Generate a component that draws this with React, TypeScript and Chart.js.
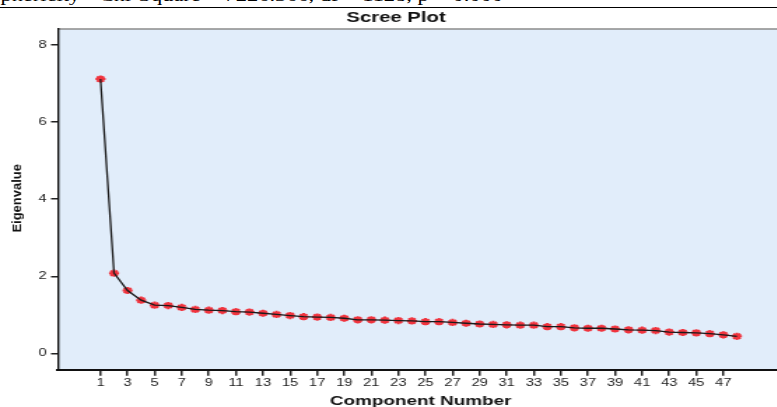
import React, { useEffect, useRef } from 'react';
import { Chart, registerables } from 'chart.js';

Chart.register(...registerables);

// ---- data ----
const components = [
  1, 2, 3, 4, 5, 6, 7, 8, 9, 10, 11, 12, 13, 14, 15, 16, 17, 18, 19, 20, 21, 22, 23, 24,
  25, 26, 27, 28, 29, 30, 31, 32, 33, 34, 35, 36, 37, 38, 39, 40, 41, 42, 43, 44, 45, 46, 47, 48,
];
const eigenvalues = [
  7.12, 2.08, 1.63, 1.38, 1.25, 1.24, 1.19, 1.14, 1.12, 1.11, 1.08, 1.07,
  1.04, 1.01, 0.98, 0.95, 0.94, 0.93, 0.91, 0.87, 0.87, 0.86, 0.85, 0.84,
  0.82, 0.82, 0.80, 0.78, 0.76, 0.75, 0.74, 0.73, 0.73, 0.69, 0.69, 0.66,
  0.65, 0.65, 0.63, 0.61, 0.60, 0.59, 0.55, 0.54, 0.53, 0.51, 0.48, 0.44,
];
const xTickValues = [1, 3, 5, 7, 9, 11, 13, 15, 17, 19, 21, 23, 25, 27, 29, 31, 33, 35, 37, 39, 41, 43, 45, 47];
const yTickValues = [0, 2, 4, 6, 8];
const chartTitle = 'Scree Plot';
const xTitle = 'Component Number';
const yTitle = 'Eigenvalue';
const headerText = 'Sphericity - Chi-Square = 7226.366, df = 1128, p = 0.000';

// ---- layout ----
const SX = 1.4; // horizontal stretch of the original picture
const W = 566; // intrinsic canvas width
const H = 420;
const CSS_W = W * SX;
const FONT = "'Liberation Sans', Arial, Helvetica, sans-serif";

export default function App() {
  const ref = useRef<HTMLCanvasElement>(null);

  useEffect(() => {
    const canvas = ref.current;
    if (!canvas) return;
    Chart.defaults.font.family = FONT;

    const points = components.map((c, i) => ({ x: c, y: eigenvalues[i] }));

    const plotBg = {
      id: 'plotBg',
      beforeDraw(chart: any) {
        const { ctx, chartArea: a } = chart;
        ctx.save();
        ctx.fillStyle = '#E1EDFA';
        ctx.fillRect(a.left, a.top, a.right - a.left, a.bottom - a.top);
        ctx.strokeStyle = '#8c8c8c';
        ctx.lineWidth = 1.5;
        ctx.beginPath();
        ctx.moveTo(a.left, a.top);
        ctx.lineTo(a.right, a.top);
        ctx.lineTo(a.right, a.bottom);
        ctx.stroke();
        ctx.restore();
      },
    };

    const yTitlePlugin = {
      id: 'yTitleStretch',
      afterDraw(chart: any) {
        const { ctx, chartArea: a } = chart;
        ctx.save();
        ctx.translate(18.1 / SX, (a.top + a.bottom) / 2 - 1.2);
        ctx.scale(1 / SX, 1);
        ctx.rotate(-Math.PI / 2);
        ctx.font = `bold 13px ${FONT}`;
        ctx.fillStyle = '#111';
        ctx.textAlign = 'center';
        ctx.textBaseline = 'middle';
        ctx.fillText(yTitle, 0, 0);
        ctx.restore();
      },
    };

    const chart = new Chart(canvas, {
      type: 'scatter',
      data: {
        datasets: [
          {
            data: points,
            showLine: false,
            pointStyle: 'star',
            pointRadius: 3.6,
            pointBorderWidth: 2,
            pointBorderColor: 'rgb(240,52,62)',
            pointBackgroundColor: 'rgb(240,52,62)',
            order: 2,
          },
          {
            data: points,
            showLine: true,
            pointRadius: 0,
            borderColor: '#1a1a1a',
            borderWidth: 1.3,
            tension: 0,
            order: 1,
          },
        ],
      },
      options: {
        animation: false,
        responsive: false,
        devicePixelRatio: 1,
        events: [],
        layout: { padding: 0 },
        plugins: {
          legend: { display: false },
          tooltip: { enabled: false },
          title: {
            display: true,
            text: chartTitle,
            color: '#111',
            font: { size: 14.5, weight: 'bold', family: FONT },
            padding: { top: 8.8, bottom: 2.8 },
          },
        },
        scales: {
          x: {
            type: 'linear',
            min: -2.14,
            max: 51.45,
            afterBuildTicks: (s: any) => {
              s.ticks = xTickValues.map((v) => ({ value: v }));
            },
            afterFit: (s: any) => {
              s.height = H - 370;
            },
            ticks: {
              color: '#222',
              font: { size: 10.5, family: FONT },
              padding: 0.8,
              autoSkip: false,
              maxRotation: 0,
              callback: (v: any) => String(v),
            },
            grid: { drawOnChartArea: false, drawTicks: true, tickLength: 5.7, color: '#222', lineWidth: 1.5 },
            border: { display: true, color: '#111', width: 2 },
            title: {
              display: true,
              text: xTitle,
              color: '#111',
              font: { size: 13.5, weight: 'bold', family: FONT },
              padding: { top: 0, bottom: 10.2 },
            },
          },
          y: {
            type: 'linear',
            min: -0.434,
            max: 8.42,
            afterBuildTicks: (s: any) => {
              s.ticks = yTickValues.map((v) => ({ value: v }));
            },
            afterFit: (s: any) => {
              s.width = 58 / SX;
            },
            ticks: {
              color: '#222',
              font: { size: 10.5, family: FONT },
              padding: 3.07,
              callback: (v: any) => String(v),
            },
            grid: { drawOnChartArea: false, drawTicks: true, tickLength: 5, color: '#222', lineWidth: 1.5 },
            border: { display: true, color: '#111', width: 1.4 },
          },
        },
      },
      plugins: [plotBg, yTitlePlugin],
    } as any);

    return () => chart.destroy();
  }, []);

  return (
    <div
      style={{
        position: 'fixed',
        left: 0,
        top: 0,
        width: 777,
        height: 407,
        overflow: 'hidden',
        background: '#fff',
      }}
    >
      <div
        style={{
          position: 'absolute',
          left: -12,
          top: -12.4,
          whiteSpace: 'nowrap',
          fontFamily: "'Liberation Serif', 'Times New Roman', serif",
          fontSize: 16,
          lineHeight: '16px',
          transform: `scaleX(${SX})`,
          transformOrigin: '0 0',
          color: '#000',
        }}
      >
        {headerText}
      </div>
      <div style={{ position: 'absolute', left: 0, top: 7, width: 777, height: 1, background: '#000' }} />
      <canvas
        ref={ref}
        width={W}
        height={H}
        style={{ position: 'absolute', left: 0, top: 0, width: `${CSS_W}px`, height: `${H}px`, display: 'block' }}
      />
    </div>
  );
}
